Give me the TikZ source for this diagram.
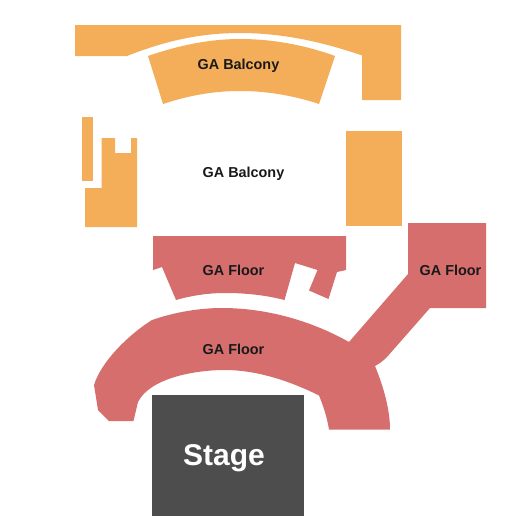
\documentclass[tikz,border=0pt]{standalone}
\usepackage{fontspec}
\setmainfont{Liberation Sans}
\definecolor{balc}{RGB}{244,174,90}
\definecolor{flr}{RGB}{214,110,110}
\definecolor{stg}{RGB}{77,77,77}
\tikzset{
  balcony/.style={fill=balc,draw=none},
  floorarea/.style={fill=flr,draw=none},
  stagearea/.style={fill=stg,draw=none},
  lab/.style={text=black!90,font=\fontsize{14.4}{16}\selectfont\bfseries,inner sep=0pt},
  stagelab/.style={text=white,font=\fontsize{30}{34}\selectfont\bfseries,inner sep=0pt}
}
\begin{document}
\begin{tikzpicture}[x=1pt,y=-1pt]
\useasboundingbox (0,0) rectangle (525,525);
% balcony
\path[balcony] (75,25) -- (401,25) -- (401,100) -- (362,100) -- (362,55.5)
  .. controls (320,41) and (280,33) .. (240,33)
  .. controls (200,33) and (165,41) .. (127,56) -- (75,56) -- cycle;
\path[balcony] (148,56) .. controls (180,45) and (210,39) .. (240,39)
  .. controls (272,39) and (305,45) .. (335,56) -- (319,104)
  .. controls (292,95) and (265,91) .. (240,91)
  .. controls (215,91) and (190,95) .. (163,104) -- cycle;
\path[balcony] (82,117) rectangle (93,181);
\path[balcony] (101.5,138) -- (115,138) -- (115,153) -- (131,153) -- (131,138) -- (137,138)
  -- (137,227) -- (85,227) -- (85,188) -- (101.5,188) -- cycle;
\path[balcony] (346,131) rectangle (402,226);
% floor
\path[floorarea] (153,236) -- (346,236) -- (346,270) -- (337,272) -- (328.5,299) -- (309,290.5)
  -- (317.5,270) -- (295,263) -- (284.5,300)
  .. controls (265,295) and (245,293) .. (225,293)
  .. controls (207,293) and (190,296) .. (176,300) -- (162,267) -- (153,270) -- cycle;
\path[floorarea] (94,385) .. controls (101,362) and (128,335) .. (152,320)
  .. controls (175,312) and (200,308) .. (222,308)
  .. controls (265,308) and (310,320) .. (349,342)
  -- (408,274) -- (408,223) -- (486,223) -- (486,308) -- (430,308) -- (387,357)
  .. controls (383,361) and (379,364) .. (375,366)
  .. controls (384,388) and (390,410) .. (390,429.5)
  -- (329,429.5) .. controls (327,417) and (323,405) .. (319,395.5)
  .. controls (288,380) and (255,370) .. (225,370)
  .. controls (195,370) and (150,378) .. (138,402)
  -- (133.5,421) -- (109,421) -- (98,410) -- cycle;
% stage
\path[stagearea] (151.5,395) rectangle (304,516);
% labels
\node[lab] (b1) at (238.5,65.5) {GA Balcony};
\node[lab] (b2) at (243.5,173.5) {GA Balcony};
\node[lab] (f1) at (233.5,270.5) {GA Floor};
\node[lab] (f2) at (233.5,349.5) {GA Floor};
\node[lab] (f3) at (450.5,270.5) {GA Floor};
\node[stagelab] (s) at (224,458) {Stage};
\end{tikzpicture}
\end{document}
